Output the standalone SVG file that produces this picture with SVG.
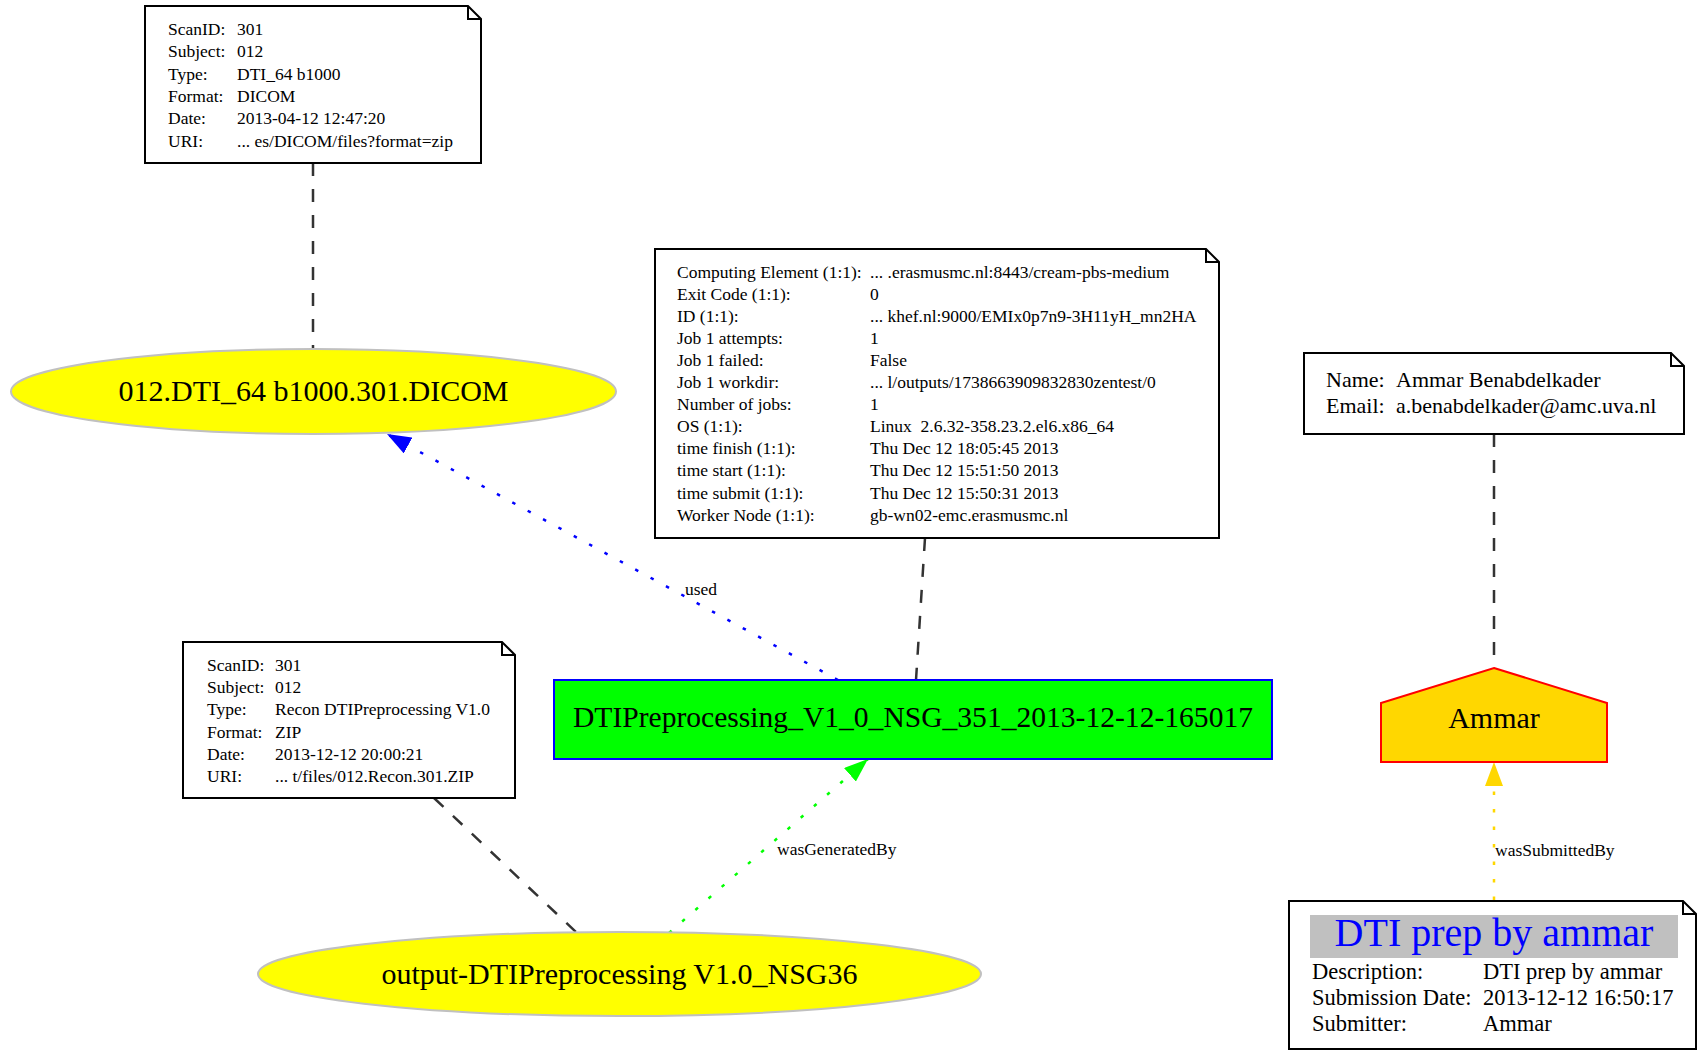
<svg xmlns="http://www.w3.org/2000/svg" width="1700" height="1052" viewBox="0 0 1700 1052">
<style>
text{font-family:"Liberation Serif","Times New Roman",serif;fill:#000}
.n{font-size:17.5px}
.big{font-size:30px}
.p{font-size:22px}
.s{font-size:22.5px}
.note{fill:#fff;stroke:#000;stroke-width:2}
.fold{fill:none;stroke:#000;stroke-width:2}
.dash{fill:none;stroke:#333;stroke-width:2.5;stroke-dasharray:13 13}
.dot{fill:none;stroke-width:2.5;stroke-dasharray:3.5 14}
.ent{fill:#ffff00;stroke:#c0c0c0;stroke-width:2}
</style>
<defs>
<marker id="ab" viewBox="0 0 24 18" refX="24" refY="9" markerWidth="24" markerHeight="18" markerUnits="userSpaceOnUse" orient="auto"><path d="M0,0 L24,9 L0,18 Z" fill="#0000ff"/></marker>
<marker id="ag" viewBox="0 0 24 18" refX="24" refY="9" markerWidth="24" markerHeight="18" markerUnits="userSpaceOnUse" orient="auto"><path d="M0,0 L24,9 L0,18 Z" fill="#00ff00"/></marker>
<marker id="ay" viewBox="0 0 24 18" refX="24" refY="9" markerWidth="24" markerHeight="18" markerUnits="userSpaceOnUse" orient="auto"><path d="M0,0 L24,9 L0,18 Z" fill="#ffd700"/></marker>
</defs>
<rect width="1700" height="1052" fill="#fff"/>

<g id="connectors">
<line class="dash" x1="313" y1="163" x2="313" y2="349"/>
<line class="dash" x1="925" y1="538" x2="916" y2="680"/>
<line class="dash" x1="434" y1="798" x2="576" y2="932"/>
<line class="dash" x1="1494" y1="434" x2="1494" y2="668"/>
<path class="dot" stroke="#0000ff" d="M838,680 L387,434" marker-end="url(#ab)"/>
<text class="n" x="685" y="595">used</text>
<path class="dot" stroke="#00ff00" d="M669,933 L868,759" marker-end="url(#ag)"/>
<text class="n" x="777" y="855">wasGeneratedBy</text>
<path class="dot" stroke="#ffd700" d="M1494,900 L1494,762" marker-end="url(#ay)"/>
<text class="n" x="1495" y="856">wasSubmittedBy</text>
</g>

<g id="note-scan-dicom">
<path class="note" d="M145,6 H468 L481,19 V163 H145 Z"/>
<path class="fold" d="M468,6 V19 H481"/>
<g class="n">
<text x="168" y="35">ScanID:</text><text x="237" y="35">301</text>
<text x="168" y="57.3">Subject:</text><text x="237" y="57.3">012</text>
<text x="168" y="79.6">Type:</text><text x="237" y="79.6">DTI_64 b1000</text>
<text x="168" y="101.9">Format:</text><text x="237" y="101.9">DICOM</text>
<text x="168" y="124.2">Date:</text><text x="237" y="124.2">2013-04-12 12:47:20</text>
<text x="168" y="146.5">URI:</text><text x="237" y="146.5">... es/DICOM/files?format=zip</text>
</g>
</g>

<g id="entity-dicom">
<ellipse class="ent" cx="313.5" cy="391.5" rx="302.5" ry="42.5"/>
<text class="big" x="313.5" y="401" text-anchor="middle">012.DTI_64 b1000.301.DICOM</text>
</g>

<g id="note-job">
<path class="note" d="M655,249 H1206 L1219,262 V538 H655 Z"/>
<path class="fold" d="M1206,249 V262 H1219"/>
<g class="n">
<text x="677" y="277.5">Computing Element (1:1):</text><text x="870" y="277.5">... .erasmusmc.nl:8443/cream-pbs-medium</text>
<text x="677" y="299.6">Exit Code (1:1):</text><text x="870" y="299.6">0</text>
<text x="677" y="321.7">ID (1:1):</text><text x="870" y="321.7">... khef.nl:9000/EMIx0p7n9-3H11yH_mn2HA</text>
<text x="677" y="343.8">Job 1 attempts:</text><text x="870" y="343.8">1</text>
<text x="677" y="365.9">Job 1 failed:</text><text x="870" y="365.9">False</text>
<text x="677" y="388">Job 1 workdir:</text><text x="870" y="388">... l/outputs/1738663909832830zentest/0</text>
<text x="677" y="410.1">Number of jobs:</text><text x="870" y="410.1">1</text>
<text x="677" y="432.2">OS (1:1):</text><text x="870" y="432.2" xml:space="preserve">Linux  2.6.32-358.23.2.el6.x86_64</text>
<text x="677" y="454.3">time finish (1:1):</text><text x="870" y="454.3">Thu Dec 12 18:05:45 2013</text>
<text x="677" y="476.4">time start (1:1):</text><text x="870" y="476.4">Thu Dec 12 15:51:50 2013</text>
<text x="677" y="498.5">time submit (1:1):</text><text x="870" y="498.5">Thu Dec 12 15:50:31 2013</text>
<text x="677" y="520.6">Worker Node (1:1):</text><text x="870" y="520.6">gb-wn02-emc.erasmusmc.nl</text>
</g>
</g>

<g id="activity">
<rect x="554" y="680" width="718" height="79" fill="#00ff00" stroke="#0000ff" stroke-width="2"/>
<text class="big" x="913" y="727" text-anchor="middle" textLength="680" lengthAdjust="spacingAndGlyphs">DTIPreprocessing_V1_0_NSG_351_2013-12-12-165017</text>
</g>

<g id="note-scan-zip">
<path class="note" d="M183,642 H502 L515,655 V798 H183 Z"/>
<path class="fold" d="M502,642 V655 H515"/>
<g class="n">
<text x="207" y="671">ScanID:</text><text x="275" y="671">301</text>
<text x="207" y="693.2">Subject:</text><text x="275" y="693.2">012</text>
<text x="207" y="715.4">Type:</text><text x="275" y="715.4">Recon DTIPreprocessing V1.0</text>
<text x="207" y="737.6">Format:</text><text x="275" y="737.6">ZIP</text>
<text x="207" y="759.8">Date:</text><text x="275" y="759.8">2013-12-12 20:00:21</text>
<text x="207" y="782">URI:</text><text x="275" y="782">... t/files/012.Recon.301.ZIP</text>
</g>
</g>

<g id="entity-output">
<ellipse class="ent" cx="619.5" cy="974" rx="361.5" ry="42"/>
<text class="big" x="619.5" y="984" text-anchor="middle">output-DTIPreprocessing V1.0_NSG36</text>
</g>

<g id="note-person">
<path class="note" d="M1304,353 H1671 L1684,366 V434 H1304 Z"/>
<path class="fold" d="M1671,353 V366 H1684"/>
<g class="p">
<text x="1326" y="387">Name:</text><text x="1396" y="387">Ammar Benabdelkader</text>
<text x="1326" y="413">Email:</text><text x="1396" y="413">a.benabdelkader@amc.uva.nl</text>
</g>
</g>

<g id="agent-ammar">
<polygon points="1494,668 1607,703 1607,762 1381,762 1381,703" fill="#ffd700" stroke="#ff0000" stroke-width="2"/>
<text class="big" x="1494" y="728" text-anchor="middle">Ammar</text>
</g>

<g id="note-submission">
<path class="note" d="M1289,901 H1683 L1696,914 V1049 H1289 Z"/>
<path class="fold" d="M1683,901 V914 H1696"/>
<rect x="1310" y="915" width="368" height="43" fill="#c0c0c0"/>
<text x="1494" y="946" text-anchor="middle" font-size="40" style="fill:#0000ff">DTI prep by ammar</text>
<g class="s">
<text x="1312" y="979">Description:</text><text x="1483" y="979">DTI prep by ammar</text>
<text x="1312" y="1005">Submission Date:</text><text x="1483" y="1005">2013-12-12 16:50:17</text>
<text x="1312" y="1031">Submitter:</text><text x="1483" y="1031">Ammar</text>
</g>
</g>
</svg>
